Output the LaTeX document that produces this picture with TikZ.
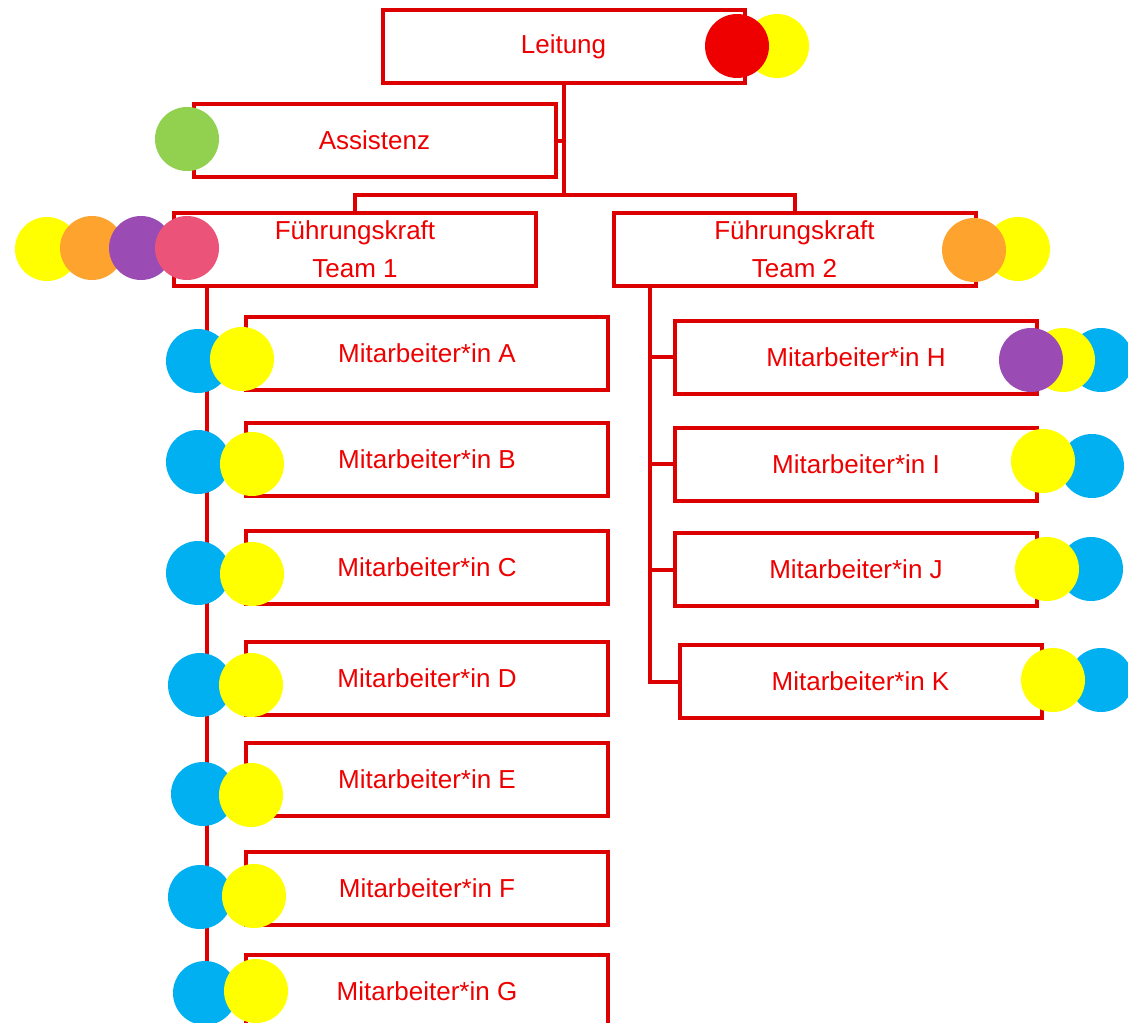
\documentclass[tikz,border=0pt]{standalone}
\usepackage{fontspec}
\setmainfont{Liberation Sans}
\usepackage{tikz}
\definecolor{boxred}{HTML}{DD0000}
\definecolor{txtred}{HTML}{EE0000}
\definecolor{dotred}{HTML}{EE0000}
\definecolor{dotyellow}{HTML}{FFFF00}
\definecolor{dotgreen}{HTML}{92D050}
\definecolor{dotorange}{HTML}{FFA32F}
\definecolor{dotpurple}{HTML}{9B4BB4}
\definecolor{dotpink}{HTML}{EB5378}
\definecolor{dotblue}{HTML}{00B0F0}

\begin{document}
\begin{tikzpicture}
	[x=0.5pt,y=-0.5pt,line width=2pt,
	every node/.style={draw=boxred,fill=white,text=txtred,align=center,inner sep=0pt,
		font=\fontsize{13}{19}\selectfont,minimum width=181pt,minimum height=36.5pt},
	link/.style={draw=boxred,line width=2pt}]
	\useasboundingbox (0,0) rectangle (1128,1022);
	% boxes
	\node (leitung) at (563.5,46.5) {Leitung};
	\node (assistenz) at (374.5,140.5) {Assistenz};
	\node (fk1) at (355,249) {Führungskraft\\Team 1};
	\node (fk2) at (794.5,249) {Führungskraft\\Team 2};
	\node (ma) at (427,353) {Mitarbeiter*in A};
	\node (mb) at (427,459.5) {Mitarbeiter*in B};
	\node (mc) at (427,567.5) {Mitarbeiter*in C};
	\node (md) at (427,678.5) {Mitarbeiter*in D};
	\node (me) at (427,779) {Mitarbeiter*in E};
	\node (mf) at (427,888) {Mitarbeiter*in F};
	\node (mg) at (427,991) {Mitarbeiter*in G};
	\node (mh) at (856,357) {Mitarbeiter*in H};
	\node (mi) at (856,464) {Mitarbeiter*in I};
	\node (mj) at (856,569.5) {Mitarbeiter*in J};
	\node (mk) at (860.5,681.5) {Mitarbeiter*in K};
	% lines
	\coordinate (split) at (563.5,195);
	\coordinate (spine1) at (207,1030);
	\coordinate (spine2) at (650,287);
	\draw[link] (leitung.south) -- (split);
	\draw[link] (assistenz.east) -- (assistenz.east -| split);
	\draw[link] (fk1.north) |- (split) -| (fk2.north);
	\draw[link] (spine1 |- fk1.south) -- (spine1);
	\foreach \m in {ma,mb,mc,md,me,mf,mg}
		\draw[link] (spine1 |- \m.west) -- (\m.west);
	\draw[link] (spine2) |- (mk.west);
	\foreach \m in {mh,mi,mj}
		\draw[link] (spine2 |- \m.west) -- (\m.west);
	% dots, back to front
	\foreach \c/\x/\y in {dotyellow/777/46,dotred/737/46,dotgreen/187/139,
		dotyellow/47/249,dotorange/92/248,dotpurple/141/248,dotpink/187/248,
		dotyellow/1018/249,dotorange/974/250,
		dotblue/198/361,dotyellow/242/359,dotblue/198/462,dotyellow/252/464,
		dotblue/198/573,dotyellow/252/574,dotblue/200/685,dotyellow/251/685,
		dotblue/203/794,dotyellow/251/795,dotblue/200/897,dotyellow/254/896,
		dotblue/205/993,dotyellow/256/991,
		dotblue/1101/360,dotyellow/1063/360,dotpurple/1031/360,
		dotblue/1092/466,dotyellow/1043/461,dotblue/1091/569,dotyellow/1047/569,
		dotblue/1101/680,dotyellow/1053/680}
		\fill[\c] (\x,\y) circle[radius=16pt];
\end{tikzpicture}
\end{document}
